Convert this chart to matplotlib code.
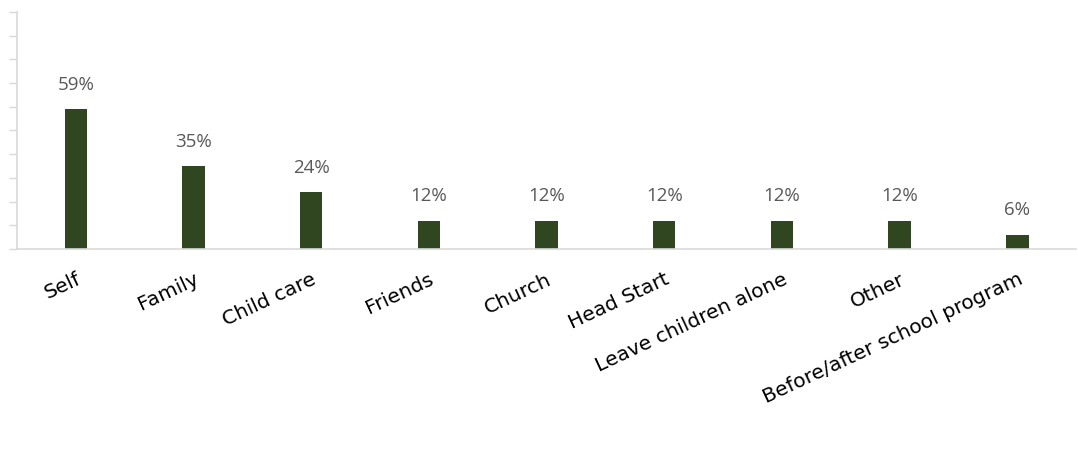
import matplotlib.pyplot as plt
import numpy as np

categories = [
    "Self",
    "Family",
    "Child care",
    "Friends",
    "Church",
    "Head Start",
    "Leave children alone",
    "Other",
    "Before/after school program",
]
values = [59, 35, 24, 12, 12, 12, 12, 12, 6]
y_ticks = list(range(0, 101, 10))

plt.rcParams["font.family"] = ["Open Sans", "DejaVu Sans"]

fig = plt.figure(figsize=(10.78, 4.74), dpi=100)
ax = fig.add_axes([0.0158, 0.4747, 0.9825, 0.5])

x = np.arange(len(categories))
bars = ax.bar(x, values, width=0.19, color="#2F4620")

for rect, v in zip(bars, values):
    ax.annotate(
        f"{v}%",
        (rect.get_x() + rect.get_width() / 2, rect.get_height()),
        xytext=(0, 11),
        textcoords="offset points",
        ha="center",
        va="bottom",
        fontsize=13.5,
        color="#595959",
    )

ax.set_xlim(-0.5, len(categories) - 0.5)
ax.set_ylim(0, 100)
ax.set_yticks(y_ticks)
ax.set_yticklabels([])
ax.tick_params(axis="y", length=6, width=1, color="#D9D9D9", direction="out")
ax.tick_params(axis="x", length=0, pad=15)
ax.set_xticks(x)
ax.set_xticklabels(
    categories, rotation=25, ha="right", rotation_mode="anchor",
    fontsize=14.5, family="DejaVu Sans",
)

for side in ["top", "right"]:
    ax.spines[side].set_visible(False)
for side in ["left", "bottom"]:
    ax.spines[side].set_color("#D9D9D9")
    ax.spines[side].set_linewidth(1.2)

fig.savefig("out.png", dpi=100)
